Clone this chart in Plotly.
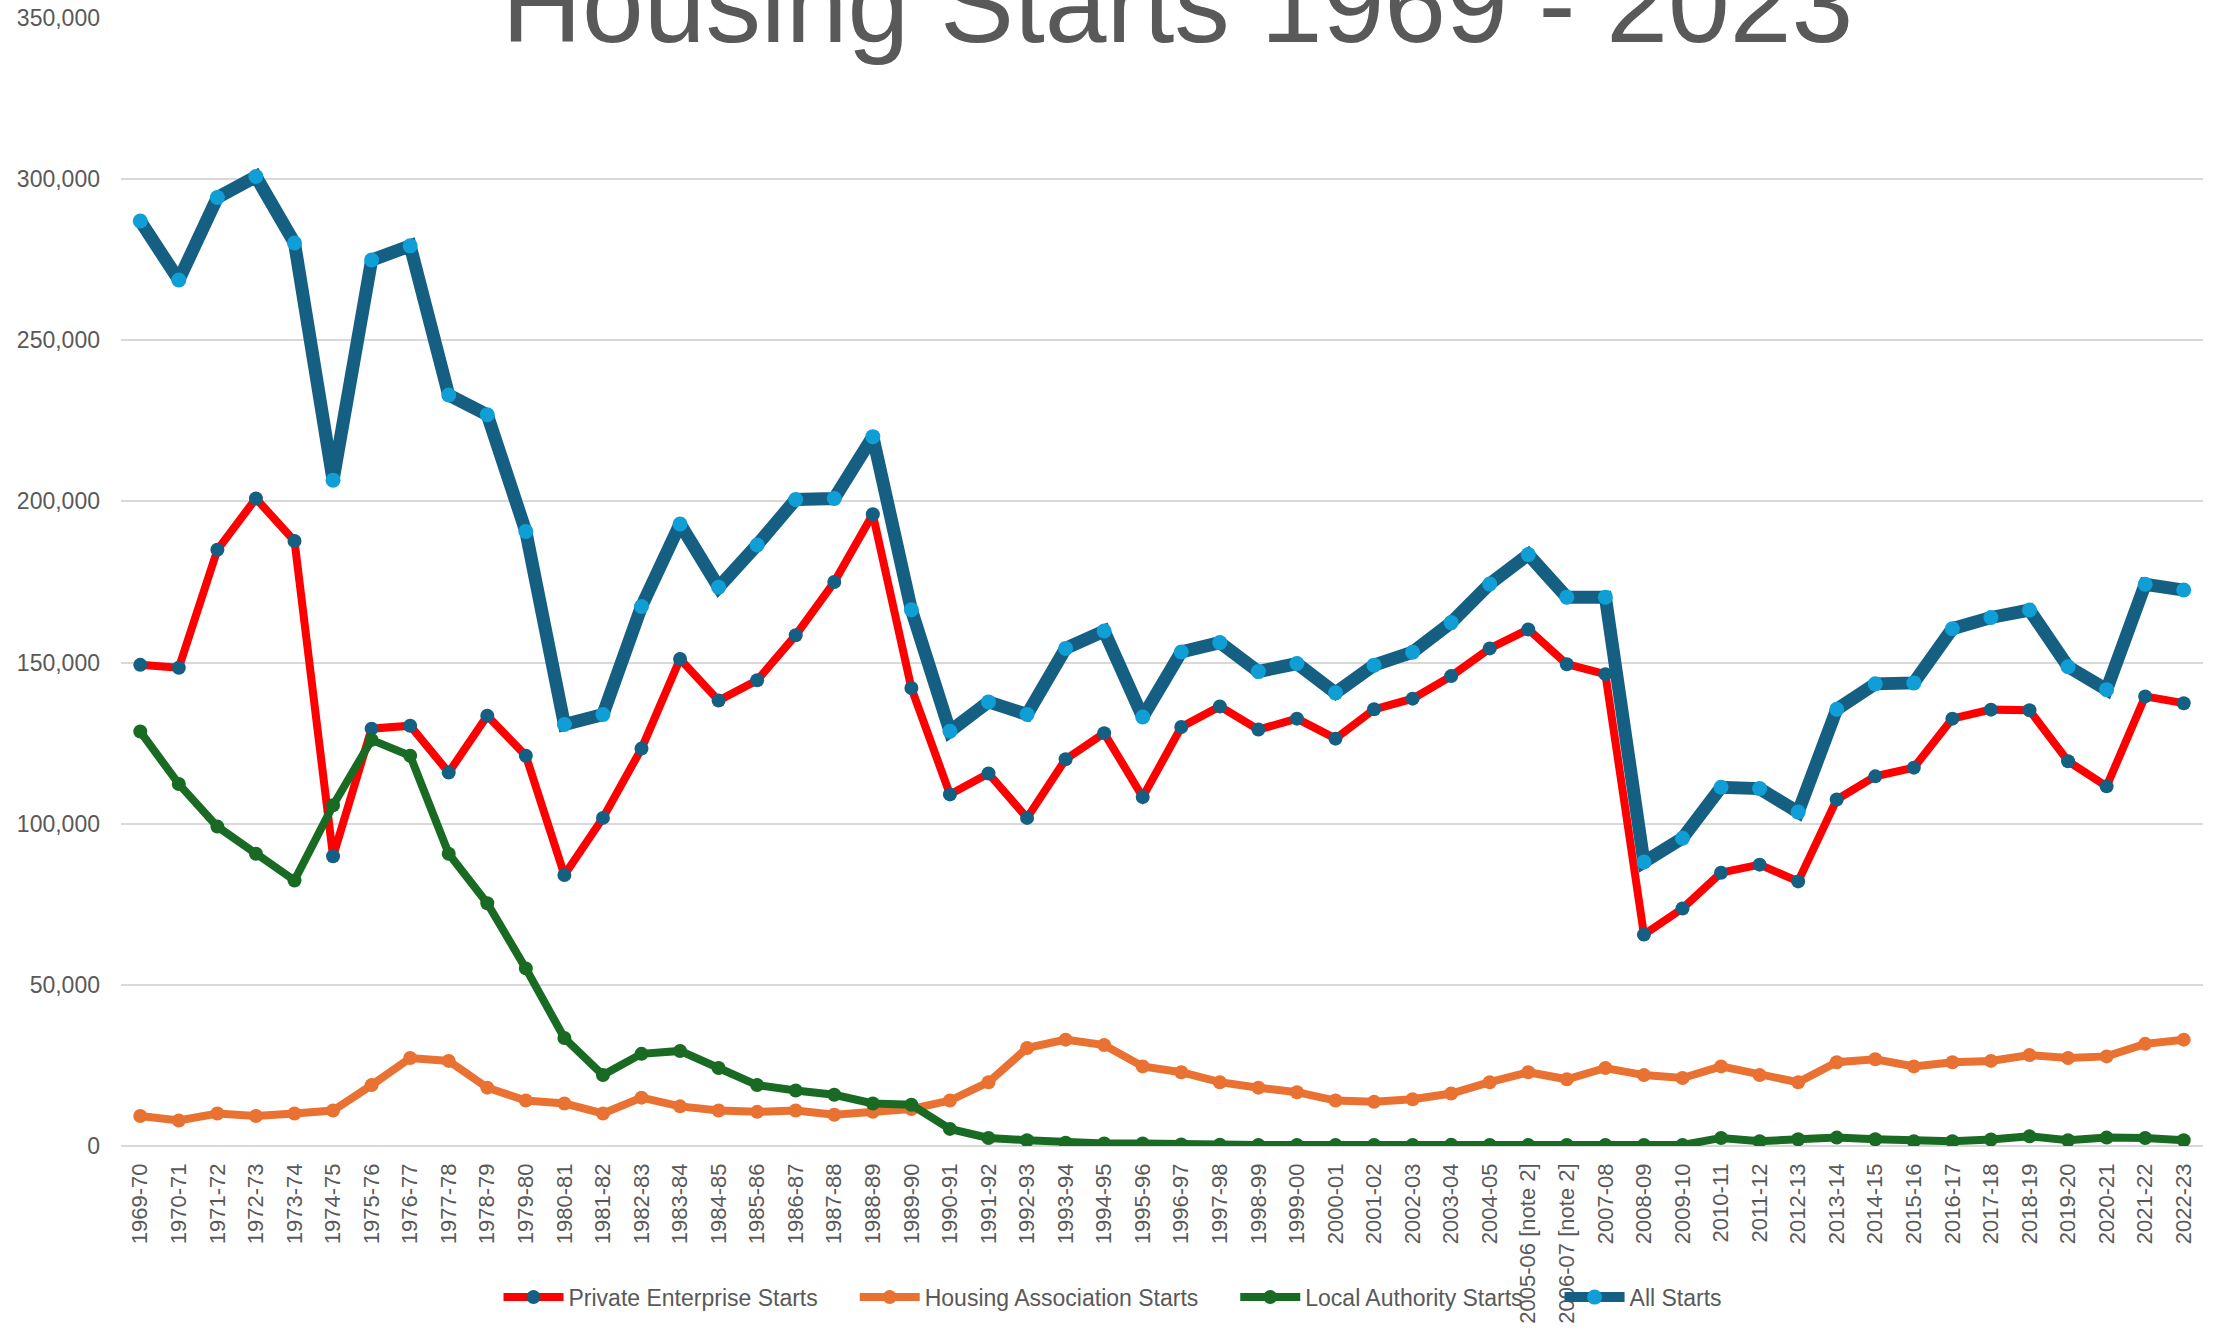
import plotly.graph_objects as go

years = ["1969-70","1970-71","1971-72","1972-73","1973-74","1974-75","1975-76","1976-77","1977-78","1978-79",
         "1979-80","1980-81","1981-82","1982-83","1983-84","1984-85","1985-86","1986-87","1987-88","1988-89",
         "1989-90","1990-91","1991-92","1992-93","1993-94","1994-95","1995-96","1996-97","1997-98","1998-99",
         "1999-00","2000-01","2001-02","2002-03","2003-04","2004-05","2005-06 [note 2]","2006-07 [note 2]","2007-08","2008-09",
         "2009-10","2010-11","2011-12","2012-13","2013-14","2014-15","2015-16","2016-17","2017-18","2018-19",
         "2019-20","2020-21","2021-22","2022-23"]

private_starts = [149300,148400,185000,200900,187700,89900,129500,130400,115900,133500,
                  121100,84100,101800,123300,151100,138200,144500,158500,175000,196000,
                  142100,109100,115600,101800,120000,128100,108300,130000,136400,129200,
                  132600,126400,135500,138800,145800,154400,160300,149500,146400,65600,
                  73700,84800,87300,82100,107500,114700,117400,132600,135400,135200,
                  119400,111600,139500,137400]

housing_association_starts = [9300,7900,10100,9300,10100,11000,18900,27300,26400,18100,
                              14100,13200,10100,15000,12300,11000,10600,11000,9700,10600,
                              11500,14100,19800,30400,33000,31300,24700,22900,19800,18100,
                              16700,14100,13700,14500,16300,19800,22900,20700,24200,22000,
                              21100,24700,22000,19800,26000,26900,24700,26000,26400,28200,
                              27300,27800,31700,33000]

local_authority_starts = [128600,112300,99100,90700,82400,105700,126000,121100,90700,75300,
                          55100,33500,22000,28600,29500,24200,18900,17200,15900,13200,
                          12800,5300,2500,1800,1000,800,800,500,400,300,
                          300,300,300,300,400,300,300,300,300,300,
                          300,2500,1500,2100,2600,2100,1500,1500,2000,3000,
                          1800,2600,2500,1800]

all_starts = [287000,268700,294300,300800,280200,206600,274900,279300,233000,226900,
              190700,130800,133900,167400,193000,173400,186500,200600,200900,220100,
              166400,128700,137800,133900,154400,159800,133100,153300,156200,147200,
              149700,140600,149200,153200,162400,174400,183500,170300,170300,88100,
              95500,111300,110900,103600,135500,143400,143700,160500,164000,166300,
              148700,141600,174300,172500]

series_names = ["Private Enterprise Starts", "Housing Association Starts", "Local Authority Starts", "All Starts"]

DARK_BLUE = "#156082"
ORANGE = "#E97132"
GREEN = "#196B24"
LIGHT_BLUE = "#0F9ED5"
RED = "#FF0000"
TEXT = "#595959"
GRID = "#D9D9D9"
FONT = "Liberation Sans, Arial, sans-serif"
PAD = "\u00a0" * 5

fig = go.Figure()
fig.add_trace(go.Scatter(x=years, y=private_starts, name=series_names[0] + PAD, mode="lines+markers",
                         line=dict(color=RED, width=8), marker=dict(color=DARK_BLUE, size=14)))
fig.add_trace(go.Scatter(x=years, y=housing_association_starts, name=series_names[1] + PAD, mode="lines+markers",
                         line=dict(color=ORANGE, width=8), marker=dict(color=ORANGE, size=14)))
fig.add_trace(go.Scatter(x=years, y=local_authority_starts, name=series_names[2] + PAD, mode="lines+markers",
                         line=dict(color=GREEN, width=8), marker=dict(color=GREEN, size=14)))
fig.add_trace(go.Scatter(x=years, y=all_starts, name=series_names[3], mode="lines+markers",
                         line=dict(color=DARK_BLUE, width=13), marker=dict(color=LIGHT_BLUE, size=15)))

fig.update_layout(
    width=2226, height=1331,
    paper_bgcolor="white", plot_bgcolor="white",
    margin=dict(l=121, r=23, t=18, b=185, autoexpand=False),
    font=dict(family=FONT, color=TEXT, size=22),
    title=dict(text="Housing Starts 1969 - 2023", x=0.529, xanchor="center", xref="container",
               y=1 - 42 / 1331, yanchor="bottom", yref="container",
               font=dict(family=FONT, size=111, color=TEXT)),
    xaxis=dict(type="category", tickangle=-90, showgrid=False, showline=False, zeroline=False,
               ticks="", tickfont=dict(size=22, color=TEXT), range=[-0.5, len(years) - 0.5],
               ticklabelstandoff=12),
    yaxis=dict(range=[0, 350000], dtick=50000, tickformat=",", showgrid=True, gridcolor=GRID, gridwidth=2,
               zeroline=True, zerolinecolor=GRID, zerolinewidth=2, ticks="", showline=False,
               tickfont=dict(size=23, color=TEXT), ticklabelstandoff=20),
    legend=dict(orientation="h", x=0.5, xanchor="center", xref="container", y=-0.134, yanchor="middle",
                font=dict(size=23, color=TEXT), itemwidth=60, bgcolor="rgba(0,0,0,0)"),
    showlegend=True,
)

fig.write_html("out.html", config={"displayModeBar": False},
               post_script="document.body.style.margin='0';")
